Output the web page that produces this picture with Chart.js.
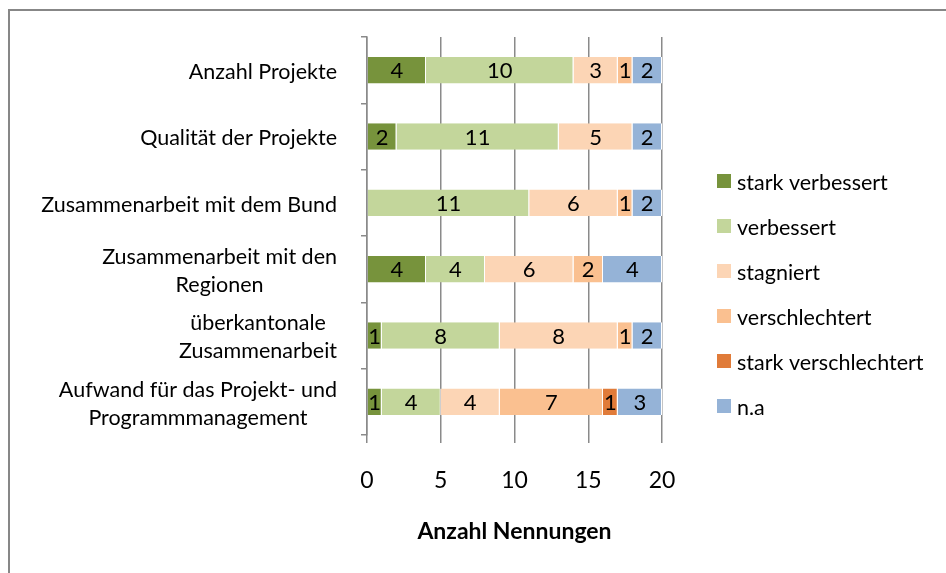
<!DOCTYPE html>
<html>
<head>
<meta charset="utf-8">
<script src="https://cdn.jsdelivr.net/npm/chart.js@4.4.1/dist/chart.umd.min.js"></script>
<style>
  html, body { margin: 0; padding: 0; background: #fff; }
  #wrap { position: relative; width: 946px; height: 573px; overflow: hidden; }
  #frame { position: absolute; left: 8px; top: 9px; width: 1000px; height: 1000px;
           border-left: 2px solid #878787; border-top: 2px solid #878787; }
  #chart { position: absolute; left: 0; top: 0; }
</style>
</head>
<body>
<div id="wrap">
  <div id="frame"></div>
  <canvas id="chart" width="946" height="573"></canvas>
</div>
<script>
const categories = [
    ['Anzahl Projekte'],
    ['Qualität der Projekte'],
    ['Zusammenarbeit mit dem Bund'],
    ['Zusammenarbeit mit den', 'Regionen'],
    ['überkantonale', 'Zusammenarbeit'],
    ['Aufwand für das Projekt- und', 'Programmmanagement']
];
const seriesNames = ['stark verbessert', 'verbessert', 'stagniert', 'verschlechtert', 'stark verschlechtert', 'n.a'];
const starkVerbessert     = [4, 2, 0, 4, 1, 1];
const verbessert          = [10, 11, 11, 4, 8, 4];
const stagniert           = [3, 5, 6, 6, 8, 4];
const verschlechtert      = [1, 0, 1, 2, 1, 7];
const starkVerschlechtert = [0, 0, 0, 0, 0, 1];
const na                  = [2, 2, 2, 4, 2, 3];
const xTicks = [0, 5, 10, 15, 20];

const colors = ['#77933C', '#C3D69B', '#FCD5B5', '#FAC090', '#E07B39', '#95B3D7'];
const values = [starkVerbessert, verbessert, stagniert, verschlechtert, starkVerschlechtert, na];
const FONT = 'Lato, "Open Sans", sans-serif';

const segmentLabels = {
    id: 'segmentLabels',
    afterDatasetsDraw(chart) {
        const ctx = chart.ctx;
        ctx.save();
        ctx.font = '22px ' + FONT;
        ctx.fillStyle = '#000';
        ctx.textAlign = 'center';
        ctx.textBaseline = 'middle';
        chart.data.datasets.forEach((ds, i) => {
            chart.getDatasetMeta(i).data.forEach((bar, j) => {
                const v = ds.data[j];
                if (!v) return;
                const cx = (bar.x + bar.base) / 2;
                ctx.fillText(String(v), cx, bar.y + 1);
            });
        });
        ctx.restore();
    }
};

const categoryLabels = {
    id: 'categoryLabels',
    afterDraw(chart) {
        const ctx = chart.ctx;
        const y = chart.scales.y;
        const right = 337, lh = 28;
        ctx.save();
        ctx.font = '21.5px ' + FONT;
        ctx.fillStyle = '#000';
        ctx.textAlign = 'center';
        ctx.textBaseline = 'middle';
        categories.forEach((lines, i) => {
            const w = Math.max(...lines.map(l => ctx.measureText(l).width));
            const cx = right - w / 2;
            const cy = y.getPixelForValue(i) + 2;
            const y0 = cy - (lines.length - 1) * lh / 2;
            lines.forEach((l, k) => ctx.fillText(l, cx, y0 + k * lh));
        });
        ctx.restore();
    }
};

const sideLegend = {
    id: 'sideLegend',
    afterDraw(chart) {
        const ctx = chart.ctx;
        ctx.save();
        ctx.font = '21.5px ' + FONT;
        ctx.textAlign = 'left';
        ctx.textBaseline = 'middle';
        chart.data.datasets.forEach((ds, i) => {
            const cy = 181 + i * 45;
            ctx.fillStyle = ds.backgroundColor;
            ctx.fillRect(717, cy - 7, 14, 14);
            ctx.fillStyle = '#000';
            ctx.fillText(ds.label, 737, cy + 2);
        });
        ctx.restore();
    }
};

new Chart(document.getElementById('chart'), {
    type: 'bar',
    data: {
        labels: categories.map(c => c.join(' ')),
        datasets: seriesNames.map((name, i) => ({
            label: name,
            data: values[i],
            backgroundColor: colors[i],
            borderColor: '#ffffff',
            borderWidth: { right: 1 },
            borderSkipped: false,
            barPercentage: 0.4,
            categoryPercentage: 1
        }))
    },
    options: {
        indexAxis: 'y',
        responsive: false,
        animation: false,
        layout: { padding: { left: 0, right: 284, top: 37, bottom: 0 } },
        plugins: {
            legend: { display: false },
            tooltip: { enabled: false }
        },
        scales: {
            x: {
                stacked: true,
                min: 0,
                max: 20,
                afterBuildTicks: s => { s.ticks = xTicks.map(v => ({ value: v })); },
                afterFit: s => { s.height = 138; },
                grid: { color: '#8a8a8a', lineWidth: 1.5, tickLength: 8, drawOnChartArea: true },
                border: { display: false },
                ticks: { color: '#000', padding: 24, font: { family: FONT, size: 23 } },
                title: {
                    display: true,
                    text: 'Anzahl Nennungen',
                    color: '#000',
                    font: { family: FONT, size: 23, weight: 'bold' },
                    padding: { top: 0, bottom: 28 }
                }
            },
            y: {
                stacked: true,
                afterFit: s => { s.width = 367; },
                grid: { offset: true, drawOnChartArea: false, color: '#8a8a8a', lineWidth: 1.5, tickLength: 6 },
                border: { display: true, color: '#8a8a8a', width: 1.5 },
                ticks: { display: false }
            }
        }
    },
    plugins: [segmentLabels, categoryLabels, sideLegend]
});
</script>
</body>
</html>
